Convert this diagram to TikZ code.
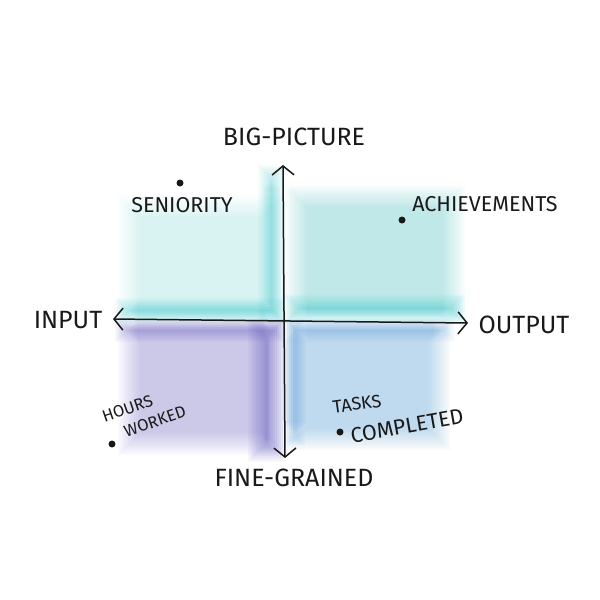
\documentclass[tikz,border=0pt]{standalone}
\usepackage{fontspec}
\setmainfont{Fira Sans}
\usetikzlibrary{arrows.meta}
\definecolor{tealLight}{RGB}{120,215,215}
\definecolor{tealMid}{RGB}{90,205,205}
\definecolor{tealDark}{RGB}{40,195,200}
\definecolor{purp}{RGB}{125,115,205}
\definecolor{purpDark}{RGB}{90,80,190}
\definecolor{blueq}{RGB}{100,170,220}
\definecolor{blueDark}{RGB}{60,140,215}
\definecolor{inkc}{RGB}{25,25,25}
% colour, opacity per layer, x1, y1, x2, y2
\newcommand\softrect[6]{%
  \foreach \i in {0,...,11} {%
    \fill[#1, opacity=#2] (#3+\i*2,#4+\i*2) rectangle (#5-\i*2,#6-\i*2);
  }%
}
\tikzset{
  axis/.style={draw=inkc, line width=1.5pt, {Straight Barb[length=9pt,width=22pt,line width=1.5pt]}-{Straight Barb[length=9pt,width=22pt,line width=1.5pt]}},
  axlabel/.style={text=inkc, font=\fontsize{25}{25}\selectfont, inner sep=0pt},
  ptlabel/.style={text=inkc, font=\fontsize{21.5}{21.5}\selectfont, inner sep=0pt},
  smalllabel/.style={text=inkc, font=\fontsize{18}{18}\selectfont, inner sep=0pt},
  twolines/.style={text=inkc, font=\fontsize{16.5}{21}\selectfont, inner sep=0pt, align=left},
  pt/.style={fill=inkc, circle, minimum size=7pt, inner sep=0pt}
}
\begin{document}
\begin{tikzpicture}[x=1pt,y=-1pt]
\useasboundingbox[fill=white] (0,0) rectangle (600,600);
% shading
\softrect{tealLight}{0.024}{118}{195}{285}{323}
\softrect{tealMid}{0.035}{285}{185}{465}{323}
\softrect{tealDark}{0.045}{258}{165}{285}{323}
\softrect{tealDark}{0.05}{115}{298}{285}{323}
\softrect{tealDark}{0.05}{285}{294}{465}{323}
\softrect{purp}{0.036}{118}{319}{285}{455}
\softrect{purpDark}{0.05}{248}{319}{285}{462}
\softrect{purpDark}{0.045}{115}{319}{285}{342}
\softrect{blueq}{0.038}{285}{319}{450}{450}
\softrect{blueDark}{0.045}{285}{319}{305}{445}
\softrect{blueDark}{0.035}{285}{319}{455}{342}
% axes
\coordinate (L) at (113,319);
\coordinate (R) at (468,323);
\coordinate (T) at (283,165);
\coordinate (B) at (285,458);
\draw[axis] (L) -- (R);
\draw[axis] (T) -- (B);
% axis labels
\node[axlabel] (big) at (294,137) {BIG-PICTURE};
\node[axlabel] (fine) at (294,478) {FINE-GRAINED};
\node[axlabel] (in) at (68,320) {INPUT};
\node[axlabel] (out) at (524,325) {OUTPUT};
% points
\node[pt] (psen) at (180,183) {};
\node[ptlabel] (sen) at (182,205) {SENIORITY};
\node[pt] (pach) at (402,220) {};
\node[ptlabel] (ach) at (485,204) {ACHIEVEMENTS};
\node[pt] (phrs) at (112,444) {};
\node[twolines, rotate=19] (hrs) at (144,414) {HOURS\\\hspace*{16pt}WORKED};
\node[pt] (ptsk) at (340,432) {};
\node[smalllabel, rotate=8] (tsk) at (357,404) {TASKS};
\node[ptlabel, rotate=10] (cmp) at (407,426) {COMPLETED};
\end{tikzpicture}
\end{document}
